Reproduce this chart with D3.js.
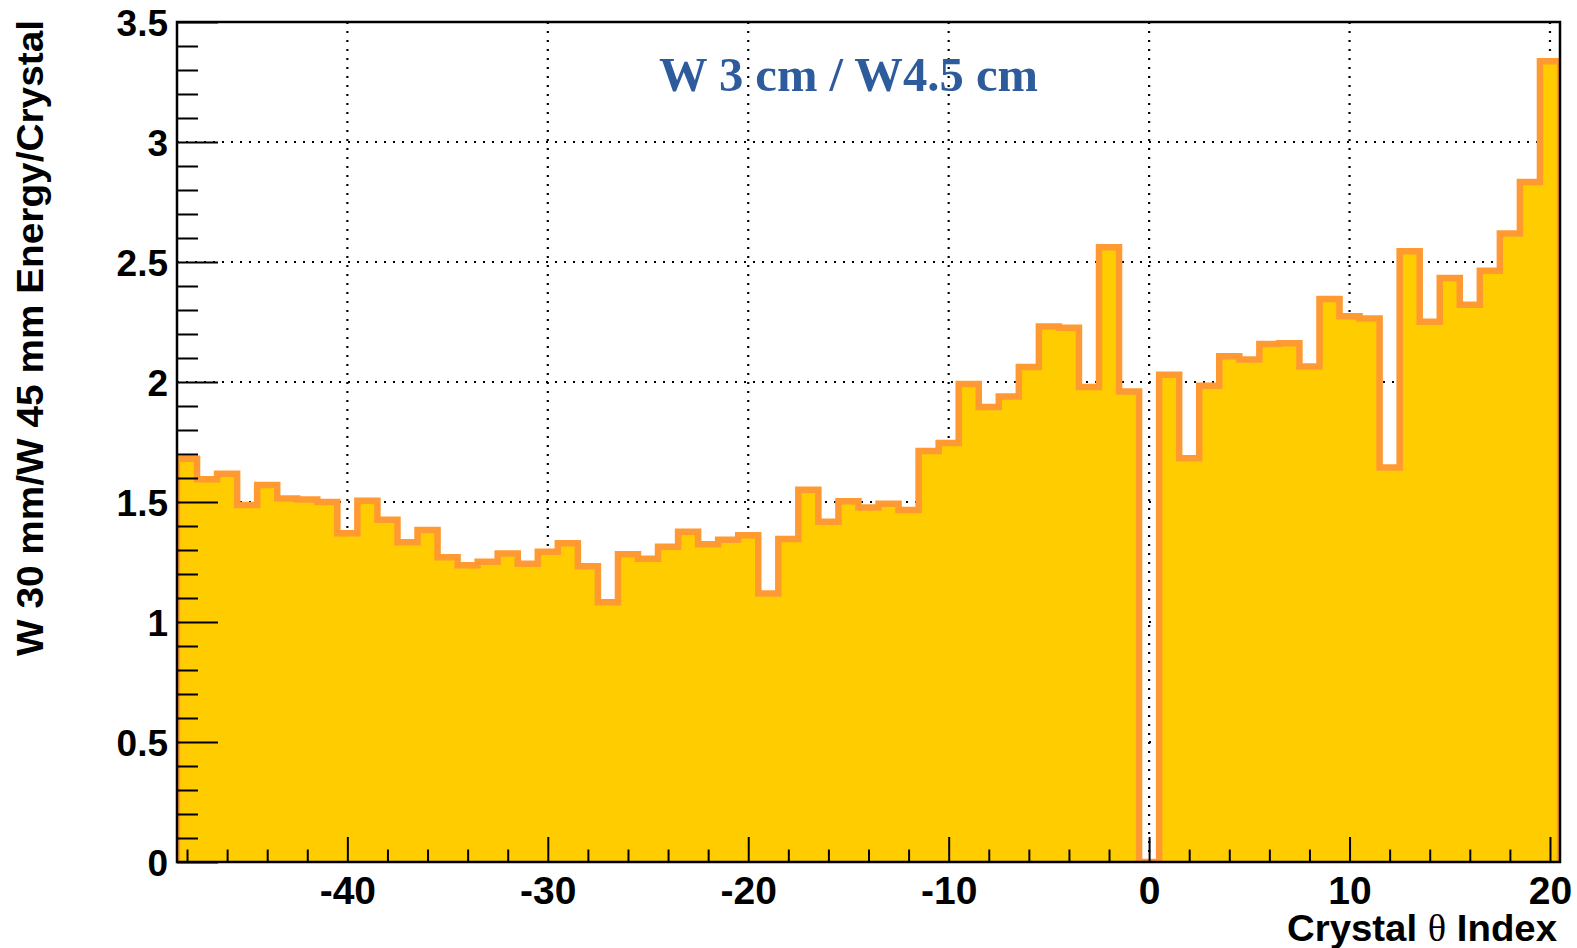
<!DOCTYPE html>
<html>
<head>
<meta charset="utf-8">
<script src="https://cdn.jsdelivr.net/npm/d3@7"></script>
<style>
body { margin: 0; background: #ffffff; }
text { font-family: "Liberation Sans", Arial, Helvetica, sans-serif; font-weight: bold; }
</style>
</head>
<body>
<script>
var width = 1577, height = 948;
var frame = { left: 177, right: 1560, top: 22, bottom: 862 };

var color_fill = "#FFCC00";
var color_line = "#FF9A33";
var color_note = "#2E5B9B";

// crystal theta index (bin centres) and W30mm/W45mm energy ratio
var crystalIndex = [-48, -47, -46, -45, -44, -43, -42, -41, -40, -39, -38, -37, -36, -35,
                    -34, -33, -32, -31, -30, -29, -28, -27, -26, -25, -24, -23, -22, -21,
                    -20, -19, -18, -17, -16, -15, -14, -13, -12, -11, -10, -9, -8, -7,
                    -6, -5, -4, -3, -2, -1, 0, 1, 2, 3, 4, 5, 6, 7,
                    8, 9, 10, 11, 12, 13, 14, 15, 16, 17, 18, 19, 20];
var energyRatio = [1.68, 1.595, 1.618, 1.488, 1.571, 1.515, 1.51, 1.50, 1.37, 1.505, 1.426, 1.332, 1.383, 1.27,
                   1.236, 1.251, 1.285, 1.243, 1.293, 1.328, 1.232, 1.082, 1.282, 1.264, 1.314, 1.376, 1.324, 1.343,
                   1.361, 1.119, 1.346, 1.551, 1.418, 1.503, 1.477, 1.493, 1.467, 1.712, 1.746, 1.992, 1.896, 1.940,
                   2.062, 2.231, 2.226, 1.979, 2.561, 1.96, 0, 2.030, 1.682, 1.984, 2.107, 2.094, 2.158, 2.161,
                   2.065, 2.346, 2.274, 2.265, 1.644, 2.545, 2.251, 2.433, 2.322, 2.464, 2.619, 2.833, 3.336];

var xTickValues = [-40, -30, -20, -10, 0, 10, 20];
var xTickLabels = ["-40", "-30", "-20", "-10", "0", "10", "20"];
var yTickValues = [0, 0.5, 1, 1.5, 2, 2.5, 3, 3.5];
var yTickLabels = ["0", "0.5", "1", "1.5", "2", "2.5", "3", "3.5"];
var xDomain = [-48.5, 20.5], yDomain = [0, 3.5];

var xTitle = "Crystal ", xTitleSym = "\u03b8", xTitleEnd = " Index";
var yTitle = "W 30 mm/W 45 mm Energy/Crystal";
var noteText = "W 3 cm / W4.5 cm";

var x = d3.scaleLinear().domain(xDomain).range([frame.left, frame.right]);
var y = d3.scaleLinear().domain(yDomain).range([frame.bottom, frame.top]);

var svg = d3.select("body").append("svg")
  .attr("width", width)
  .attr("height", height);

svg.append("defs").append("clipPath").attr("id", "frameclip")
  .append("rect")
  .attr("x", frame.left).attr("y", frame.top)
  .attr("width", frame.right - frame.left)
  .attr("height", frame.bottom - frame.top);

// grid
var grid = svg.append("g")
  .attr("stroke", "#000").attr("stroke-width", 2.2)
  .attr("stroke-dasharray", "2,7");
grid.selectAll("line.gx").data(xTickValues)
  .enter().append("line")
  .attr("x1", function(d) { return x(d); }).attr("x2", function(d) { return x(d); })
  .attr("y1", frame.top).attr("y2", frame.bottom);
grid.selectAll("line.gy").data(yTickValues.slice(1))
  .enter().append("line")
  .attr("x1", frame.left).attr("x2", frame.right)
  .attr("y1", function(d) { return y(d); }).attr("y2", function(d) { return y(d); });

// histogram
var bins = crystalIndex.map(function(c, i) {
  return { lo: c - 0.5, hi: c + 0.5, v: energyRatio[i] };
});
var pts = [[xDomain[0], 0]];
bins.forEach(function(b) { pts.push([b.lo, b.v]); pts.push([b.hi, b.v]); });
pts.push([xDomain[1], 0]);

var histg = svg.append("g").attr("clip-path", "url(#frameclip)");
histg.append("path")
  .attr("d", d3.area()
    .x(function(d) { return x(d[0]); })
    .y0(y(0))
    .y1(function(d) { return y(d[1]); })(pts))
  .attr("fill", color_fill);
histg.append("path")
  .attr("d", d3.line()
    .x(function(d) { return x(d[0]); })
    .y(function(d) { return y(d[1]); })(pts))
  .attr("fill", "none")
  .attr("stroke", color_line)
  .attr("stroke-width", 6.5)
  .attr("stroke-linejoin", "miter");

// ticks
var yMinor = d3.range(0, 3.5001, 0.1).filter(function(d) {
  return Math.abs(d * 2 - Math.round(d * 2)) > 1e-6;
});
var xMinor = d3.range(-48, 21, 2).filter(function(d) { return d % 10 !== 0; });

function styleTicks(g) {
  g.select(".domain").remove();
  g.selectAll(".tick line").attr("stroke", "#000").attr("stroke-width", 2);
}

svg.append("g").attr("transform", "translate(" + frame.left + ",0)")
  .call(d3.axisRight(y).tickValues(yTickValues).tickSize(41).tickFormat(""))
  .call(styleTicks);
svg.append("g").attr("transform", "translate(" + frame.left + ",0)")
  .call(d3.axisRight(y).tickValues(yMinor).tickSize(21).tickFormat(""))
  .call(styleTicks);
svg.append("g").attr("transform", "translate(0," + frame.bottom + ")")
  .call(d3.axisTop(x).tickValues(xTickValues).tickSize(25).tickFormat(""))
  .call(styleTicks);
svg.append("g").attr("transform", "translate(0," + frame.bottom + ")")
  .call(d3.axisTop(x).tickValues(xMinor).tickSize(12.5).tickFormat(""))
  .call(styleTicks);

// tick labels
var yl = svg.append("g").attr("transform", "translate(" + frame.left + ",0)")
  .call(d3.axisLeft(y).tickValues(yTickValues).tickSize(0).tickPadding(9)
    .tickFormat(function(d, i) { return yTickLabels[i]; }));
yl.select(".domain").remove();
yl.selectAll("text").attr("font-size", 37).attr("fill", "#000")
  .attr("font-family", "Liberation Sans, Arial, sans-serif").attr("font-weight", "bold")
  .attr("dy", "0.36em");

var xl = svg.append("g").attr("transform", "translate(0," + frame.bottom + ")")
  .call(d3.axisBottom(x).tickValues(xTickValues).tickSize(0).tickPadding(0)
    .tickFormat(function(d, i) { return xTickLabels[i]; }));
xl.select(".domain").remove();
xl.selectAll("text").attr("font-size", 39).attr("fill", "#000")
  .attr("font-family", "Liberation Sans, Arial, sans-serif").attr("font-weight", "bold")
  .attr("y", 42).attr("dy", 0);

// frame
svg.append("rect")
  .attr("x", frame.left).attr("y", frame.top)
  .attr("width", frame.right - frame.left)
  .attr("height", frame.bottom - frame.top)
  .attr("fill", "none").attr("stroke", "#000").attr("stroke-width", 2.5);

// axis titles
var xt = svg.append("text")
  .attr("x", 1557).attr("y", 941)
  .attr("text-anchor", "end")
  .attr("font-size", 37)
  .attr("textLength", 270)
  .attr("lengthAdjust", "spacingAndGlyphs");
xt.append("tspan").text(xTitle);
xt.append("tspan").text(xTitleSym)
  .style("font-family", "Liberation Serif, Times New Roman, serif")
  .style("font-weight", "normal");
xt.append("tspan").text(xTitleEnd);

svg.append("text")
  .attr("transform", "translate(43,20) rotate(-90)")
  .attr("text-anchor", "end")
  .attr("font-size", 37)
  .attr("textLength", 636)
  .attr("lengthAdjust", "spacingAndGlyphs")
  .text(yTitle);

// note
svg.append("text")
  .attr("x", 659).attr("y", 91)
  .style("font-family", "Liberation Serif, Times New Roman, serif")
  .attr("font-size", 48)
  .attr("fill", color_note)
  .attr("textLength", 379)
  .attr("lengthAdjust", "spacingAndGlyphs")
  .text(noteText);
</script>
</body>
</html>
